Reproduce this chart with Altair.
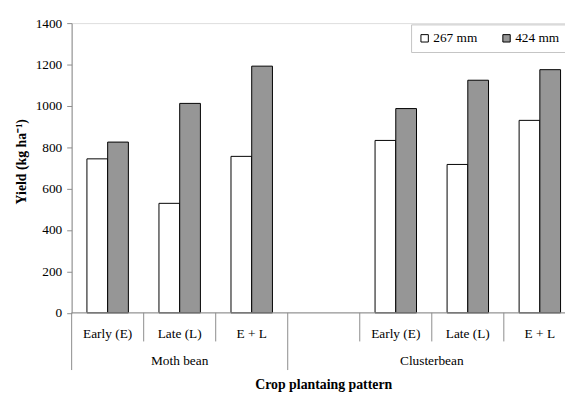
import altair as alt
import pandas as pd

# ---- data ----
crops = ["Moth bean", "Moth bean", "Moth bean", "Clusterbean", "Clusterbean", "Clusterbean"]
patterns = ["Early (E)", "Late (L)", "E + L", "Early (E)", "Late (L)", "E + L"]
yield_267 = [744, 529, 756, 833, 717, 930]
yield_424 = [825, 1012, 1192, 987, 1124, 1175]
series_names = ["267 mm", "424 mm"]
y_ticks = [0, 200, 400, 600, 800, 1000, 1200, 1400]

FONT = "Liberation Serif"
GRAY = "#969696"
LINE = "#8c8c8c"

slot_order = [f"{c}|{p}" for c, p in zip(crops[:3], patterns[:3])] + ["gap"] + \
             [f"{c}|{p}" for c, p in zip(crops[3:], patterns[3:])]

rows = []
for c, p, a, b in zip(crops, patterns, yield_267, yield_424):
    rows.append({"slot": f"{c}|{p}", "series": series_names[0], "yield": a})
    rows.append({"slot": f"{c}|{p}", "series": series_names[1], "yield": b})
bars_df = pd.DataFrame(rows)

label_df = pd.DataFrame({"slot": [f"{c}|{p}" for c, p in zip(crops, patterns)], "label": patterns})

short_sep_df = pd.DataFrame({"slot": [slot_order[i] for i in (1, 2, 4, 5, 6)]})
long_sep_df = pd.DataFrame({"slot": [slot_order[i] for i in (0, 3)]})
moth_df = pd.DataFrame({"slot": ["Moth bean|Late (L)"], "label": ["Moth bean"]})
cluster_df = pd.DataFrame({"slot": ["Clusterbean|Late (L)"], "label": ["Clusterbean"]})
title_df = pd.DataFrame({"slot": ["gap"], "label": ["Crop plantaing pattern"]})
zero_df = pd.DataFrame({"v": [0]})

W = 500
H = 293.6
FS = 13.5

xscale = alt.Scale(domain=slot_order, range=[0, 511], paddingInner=0, paddingOuter=0)

bars = alt.Chart(bars_df).mark_bar(stroke="black", strokeWidth=1).encode(
    x=alt.X("slot:N", scale=xscale, axis=None, sort=slot_order),
    xOffset=alt.XOffset("series:N", scale=alt.Scale(domain=series_names, paddingInner=0, paddingOuter=0.738)),
    y=alt.Y("yield:Q", scale=alt.Scale(domain=[0, 1400], nice=False),
            axis=alt.Axis(values=y_ticks, format="d", grid=False, domainColor=LINE, tickColor=LINE,
                          tickSize=5, labelFont=FONT, labelFontSize=FS, labelColor="black",
                          labelPadding=5, title="Yield (kg ha⁻¹)", titleFont=FONT,
                          titleFontSize=14, titleFontWeight="bold", titleColor="black",
                          titleX=-51, titleY=140, titleAngle=270, titleAlign="center",
                          titleBaseline="middle")),
    fill=alt.Fill("series:N", scale=alt.Scale(domain=series_names, range=["white", GRAY]),
                  legend=alt.Legend(title=None, orient="none", legendX=344, legendY=1.3,
                                    direction="horizontal", fillColor="white",
                                    strokeColor="#c4c4c4", padding=7, symbolType="square",
                                    symbolSize=56, symbolStrokeColor="black",
                                    symbolStrokeWidth=1, labelFont=FONT, labelFontSize=FS,
                                    labelColor="black", labelOffset=2, columnPadding=22)),
)

baseline = alt.Chart(zero_df).mark_rule(color=LINE, strokeWidth=1).encode(y=alt.Y("v:Q"))

short_seps = alt.Chart(short_sep_df).mark_rule(color=LINE, strokeWidth=1).encode(
    x=alt.X("slot:N", scale=xscale, bandPosition=0, axis=None),
    y=alt.value(H), y2=alt.value(H + 29),
)
long_seps = alt.Chart(long_sep_df).mark_rule(color=LINE, strokeWidth=1).encode(
    x=alt.X("slot:N", scale=xscale, bandPosition=0, axis=None),
    y=alt.value(H), y2=alt.value(H + 58),
)

pattern_text = alt.Chart(label_df).mark_text(font=FONT, fontSize=FS, color="black",
                                             baseline="middle", align="center").encode(
    x=alt.X("slot:N", scale=xscale, bandPosition=0.5, axis=None),
    y=alt.value(H + 22), text="label:N",
)
moth_text = alt.Chart(moth_df).mark_text(font=FONT, fontSize=FS, color="black",
                                         baseline="middle", align="center").encode(
    x=alt.X("slot:N", scale=xscale, bandPosition=0.5, axis=None),
    y=alt.value(H + 49), text="label:N",
)
cluster_text = alt.Chart(cluster_df).mark_text(font=FONT, fontSize=FS, color="black",
                                               baseline="middle", align="center").encode(
    x=alt.X("slot:N", scale=xscale, bandPosition=0, axis=None),
    y=alt.value(H + 49), text="label:N",
)
title_text = alt.Chart(title_df).mark_text(font=FONT, fontSize=14, fontWeight="bold",
                                           color="black", baseline="alphabetic",
                                           align="center").encode(
    x=alt.X("slot:N", scale=xscale, bandPosition=0.5, axis=None),
    y=alt.value(H + 77), text="label:N",
)

chart = alt.layer(
    bars, baseline, short_seps, long_seps, pattern_text, moth_text, cluster_text, title_text
).properties(
    width=W, height=H,
    autosize=alt.AutoSizeParams(type="none"),
    padding={"left": 64.5, "top": 12.7, "right": 0, "bottom": 81.7},
).configure_view(stroke=None).configure(background="white")

chart.save("out.html", embed_options={"renderer": "svg", "actions": False})
